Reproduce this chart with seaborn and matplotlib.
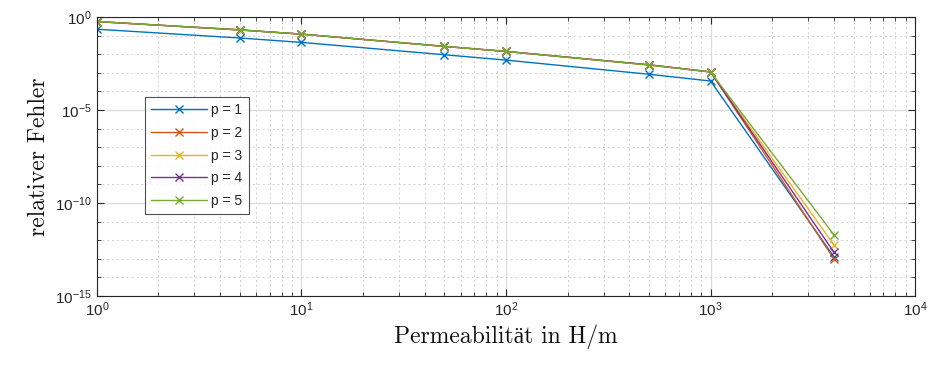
import numpy as np
import pandas as pd
import matplotlib
matplotlib.use("Agg")
import matplotlib.pyplot as plt
import seaborn as sns
from matplotlib.ticker import FixedLocator, LogLocator, LogFormatterSciNotation, NullFormatter

# ---- data ----
mu = [1, 5, 10, 50, 100, 500, 1000, 4000]
err_p1 = [0.22, 0.074, 0.043, 0.0093, 0.0048, 8.3e-4, 3.6e-4, 1.3e-13]
err_p2 = [0.56, 0.205, 0.118, 0.0265, 0.0142, 2.65e-3, 1.12e-3, 1.0e-13]
err_p3 = [0.57, 0.20, 0.12, 0.026, 0.014, 2.6e-3, 1.1e-3, 5.7e-13]
err_p4 = [0.57, 0.20, 0.12, 0.026, 0.014, 2.7e-3, 1.1e-3, 2.3e-13]
err_p5 = [0.57, 0.20, 0.12, 0.026, 0.014, 2.6e-3, 1.1e-3, 2.0e-12]
labels = ["p = 1", "p = 2", "p = 3", "p = 4", "p = 5"]
colors = ["#0072BD", "#D95319", "#EDB120", "#7E2F8E", "#77AC30"]

series = [err_p1, err_p2, err_p3, err_p4, err_p5]
df = pd.DataFrame({
    "mu": mu * len(series),
    "err": [v for s in series for v in s],
    "p": [lab for lab, s in zip(labels, series) for _ in s],
})

sns.set_theme(style="ticks")
plt.rcParams["font.family"] = ["Liberation Sans", "DejaVu Sans"]
plt.rcParams["mathtext.fontset"] = "custom"
plt.rcParams["mathtext.rm"] = "Liberation Sans"

fig = plt.figure(figsize=(9.31, 3.69), dpi=100)
ax = fig.add_axes([0.104, 0.198, 0.879, 0.756])

sns.lineplot(data=df, x="mu", y="err", hue="p", palette=colors, marker="x",
             markersize=6, linewidth=1.0, ax=ax, hue_order=labels)
for ln in ax.lines:
    ln.set_markeredgecolor(ln.get_color())
    ln.set_markeredgewidth(1.0)

ax.set_xscale("log")
ax.set_yscale("log")
ax.set_xlim(1, 1e4)
ax.set_ylim(1e-15, 1e0)

ax.xaxis.set_major_locator(FixedLocator([1, 10, 100, 1000, 10000]))
ax.xaxis.set_minor_locator(LogLocator(base=10, subs=np.arange(2, 10), numticks=20))
ax.xaxis.set_major_formatter(LogFormatterSciNotation())
ax.xaxis.set_minor_formatter(NullFormatter())
ax.yaxis.set_major_locator(FixedLocator([1e-15, 1e-10, 1e-5, 1e0]))
ax.yaxis.set_minor_locator(FixedLocator([10.0 ** k for k in range(-15, 1)]))
ax.yaxis.set_major_formatter(LogFormatterSciNotation())
ax.yaxis.set_minor_formatter(NullFormatter())

ax.grid(True, which="major", color="#dcdcdc", linestyle="-", linewidth=0.9)
ax.grid(True, which="minor", color="#d0d0d0", linestyle=(0, (2, 3)), linewidth=0.7)
ax.set_axisbelow(True)

ax.tick_params(which="both", direction="in", top=True, right=True,
               colors="#262626", labelsize=11)
ax.tick_params(which="major", length=5, width=0.8)
ax.tick_params(which="minor", length=3, width=0.6)
for s in ax.spines.values():
    s.set_color("#262626")
    s.set_linewidth(0.8)

serif = ["cmr10", "Liberation Serif"]
ax.set_xlabel("Permeabilität in H/m", fontsize=17, family=serif, color="#111111")
ax.set_ylabel("relativer Fehler", fontsize=17, family=serif, color="#111111")

leg = ax.legend(loc="upper left", bbox_to_anchor=(0.059, 0.713), borderaxespad=0,
                fontsize=10, frameon=True, fancybox=False, edgecolor="#262626",
                handlelength=4.0, borderpad=0.45, labelspacing=0.62, handletextpad=0.3)
leg.get_frame().set_linewidth(0.8)
for h in leg.get_lines():
    h.set_markeredgecolor(h.get_color())
    h.set_markeredgewidth(1.0)

fig.savefig("out.png", dpi=100)
